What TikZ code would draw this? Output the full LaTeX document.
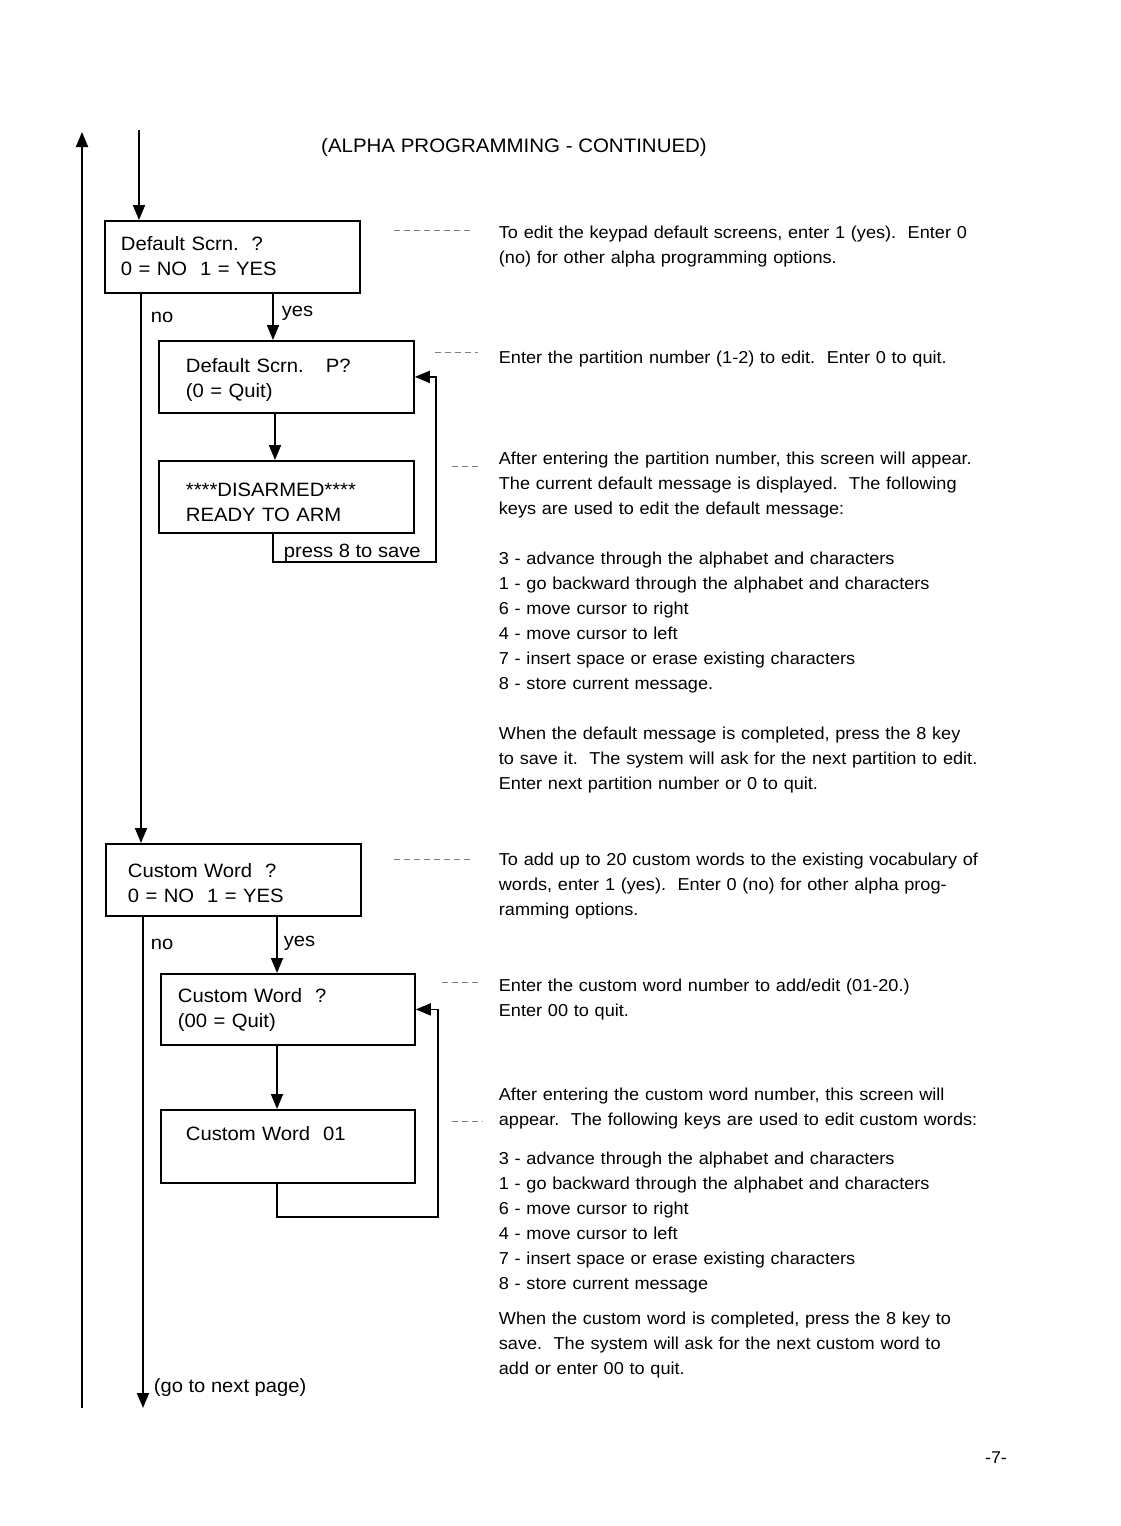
\documentclass[tikz,border=0pt]{standalone}
\usepackage{fontspec}
\setmainfont{Liberation Sans}
\newfontfamily\bodyf[FakeStretch=1.05]{Liberation Sans}
\usetikzlibrary{arrows.meta}
\begin{document}
\begin{tikzpicture}[x=1pt,y=-1pt,
  line width=1.8pt,
  box/.style={draw, line width=1.8pt, inner sep=0pt, anchor=north west},
  boxtxt/.style={font=\bodyf\fontsize{19.3}{25}\selectfont, anchor=base west, inner sep=0pt, text width=300pt, align=left},
  body/.style={font=\bodyf\fontsize{17.25}{25}\selectfont, anchor=base west, inner sep=0pt, text width=520pt, align=left},
  lbl/.style={font=\bodyf\fontsize{19.2}{24}\selectfont, anchor=base west, inner sep=0pt},
  arr/.style={-{Triangle[length=15pt,width=12pt]}},
  lead/.style={draw=gray, line width=0.8pt, dash pattern=on 6pt off 4pt},
]
\useasboundingbox (0,0) rectangle (1120,1526);

% columns
\coordinate (c1) at (141,0);
\coordinate (c2) at (273,0);
\coordinate (c3) at (275,0);
\coordinate (c4) at (143,0);
\coordinate (c5) at (277,0);

% title
\node[font=\bodyf\fontsize{19.5}{24}\selectfont, anchor=base, inner sep=0pt] (title) at (514,152) {(ALPHA PROGRAMMING - CONTINUED)};

% boxes
\node[box, minimum width=255pt, minimum height=72pt] (b1) at (104,220) {};
\node[box, minimum width=255pt, minimum height=72pt] (b2) at (158,340) {};
\node[box, minimum width=255pt, minimum height=72pt] (b3) at (158,460) {};
\node[box, minimum width=255pt, minimum height=72pt] (b4) at (105,843) {};
\node[box, minimum width=254pt, minimum height=71pt] (b5) at (160,973) {};
\node[box, minimum width=254pt, minimum height=73pt] (b6) at (160,1109) {};

% box texts
\node[boxtxt] (t1) at (120,250) {Default Scrn.\ \ ?\\0 = NO\ \ 1 = YES};
\node[boxtxt] (t2) at (185,372) {Default Scrn.\hspace{22pt}P?\\(0 = Quit)};
\node[boxtxt] (t3) at (185,496) {****DISARMED****\\READY TO ARM};
\node[boxtxt] (t4) at (127,877) {Custom Word\ \ ?\\0 = NO\ \ 1 = YES};
\node[boxtxt] (t5) at (177,1002) {Custom Word\ \ ?\\(00 = Quit)};
\node[boxtxt] (t6) at (185,1140) {Custom Word\ \ 01};

% labels
\node[lbl] (no1) at (150,322) {no};
\node[lbl] (yes1) at (281,316) {yes};
\node[lbl] (no2) at (150,949) {no};
\node[lbl] (yes2) at (283,946) {yes};
\node[lbl] (p8) at (283,557) {press 8 to save};
\node[lbl] (next) at (153,1392) {(go to next page)};
\node[font=\bodyf\fontsize{17}{20}\selectfont, anchor=base, inner sep=0pt] (pg) at (996,1463) {-7-};

% main lines
\coordinate (inTop) at (139,130);
\draw[arr] (inTop) -- (inTop |- b1.north);
\coordinate (mainBot) at (82,1408);
\coordinate (mainTop) at (82,132);
\draw[arr] (mainBot) -- (mainTop);

\draw[arr] (b1.south -| c1) -- (b4.north -| c1);
\draw[arr] (b1.south -| c2) -- (b2.north -| c2);
\draw[arr] (b2.south -| c3) -- (b3.north -| c3);
\coordinate (l1a) at (273,562);
\coordinate (l1b) at (436,562);
\draw[arr] (b3.south -| c2) -- (l1a) -- (l1b) -- (l1b |- b2.east) -- (b2.east);

\coordinate (endNext) at (143,1408);
\draw[arr] (b4.south -| c4) -- (endNext);
\draw[arr] (b4.south -| c5) -- (b5.north -| c5);
\draw[arr] (b5.south -| c5) -- (b6.north -| c5);
\coordinate (l2a) at (277,1217);
\coordinate (l2b) at (438,1217);
\draw[arr] (b6.south -| c5) -- (l2a) -- (l2b) -- (l2b |- b5.east) -- (b5.east);

% leaders
\coordinate (d1a) at (394,230); \coordinate (d1b) at (472,230);
\coordinate (d2a) at (435,352); \coordinate (d2b) at (478,352);
\coordinate (d3a) at (452,466); \coordinate (d3b) at (478,466);
\coordinate (d4a) at (394,859); \coordinate (d4b) at (473,859);
\coordinate (d5a) at (442,982); \coordinate (d5b) at (480,982);
\coordinate (d6a) at (452,1121); \coordinate (d6b) at (483,1121);
\draw[lead] (d1a) -- (d1b);
\draw[lead] (d2a) -- (d2b);
\draw[lead] (d3a) -- (d3b);
\draw[lead] (d4a) -- (d4b);
\draw[lead] (d5a) -- (d5b);
\draw[lead] (d6a) -- (d6b);

% descriptions
\node[body] (x1) at (498,238) {To edit the keypad default screens, enter 1 (yes).\ \ Enter 0\\(no) for other alpha programming options.};
\node[body] (x2) at (498,363) {Enter the partition number (1-2) to edit.\ \ Enter 0 to quit.};
\node[body] (x3) at (498,464) {After entering the partition number, this screen will appear.\\The current default message is displayed.\ \ The following\\keys are used to edit the default message:};
\node[body] (x4) at (498,564) {3 - advance through the alphabet and characters\\1 - go backward through the alphabet and characters\\6 - move cursor to right\\4 - move cursor to left\\7 - insert space or erase existing characters\\8 - store current message.};
\node[body] (x5) at (498,739) {When the default message is completed, press the 8 key\\to save it.\ \ The system will ask for the next partition to edit.\\Enter next partition number or 0 to quit.};
\node[body] (x6) at (498,865) {To add up to 20 custom words to the existing vocabulary of\\words, enter 1 (yes).\ \ Enter 0 (no) for other alpha prog-\\ramming options.};
\node[body] (x7) at (498,991) {Enter the custom word number to add/edit (01-20.)\\Enter 00 to quit.};
\node[body] (x8) at (498,1100) {After entering the custom word number, this screen will\\appear.\ \ The following keys are used to edit custom words:};
\node[body] (x9) at (498,1164) {3 - advance through the alphabet and characters\\1 - go backward through the alphabet and characters\\6 - move cursor to right\\4 - move cursor to left\\7 - insert space or erase existing characters\\8 - store current message};
\node[body] (x10) at (498,1324) {When the custom word is completed, press the 8 key to\\save.\ \ The system will ask for the next custom word to\\add or enter 00 to quit.};
\end{tikzpicture}
\end{document}
